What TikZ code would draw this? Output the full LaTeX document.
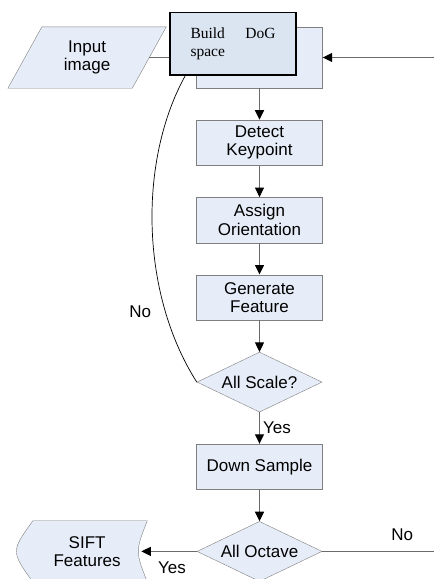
\documentclass[tikz,border=0pt]{standalone}
\usepackage{fontspec}
\setmainfont{Liberation Sans}
\newfontfamily\timesfont{Liberation Serif}
\usetikzlibrary{positioning,shapes.geometric,arrows.meta,backgrounds}
\definecolor{boxfill}{HTML}{E7EDF8}
\definecolor{buildfill}{HTML}{DBE4F1}
\definecolor{boxline}{HTML}{7F7F7F}
\definecolor{flowline}{HTML}{6A6A6A}

\begin{document}
\begin{tikzpicture}[x=1pt, y=-1pt,
    font=\fontsize{17}{18.5}\selectfont,
    node distance=31.5pt,
    proc/.style={rectangle, draw=boxline, fill=boxfill, minimum width=126pt,
      minimum height=45.5pt, align=center, inner sep=0pt},
    decide/.style={diamond, draw=boxline, fill=boxfill, minimum width=125pt,
      minimum height=60pt, aspect=2, inner sep=0pt},
    io/.style={align=center, minimum height=61pt, inner sep=0pt},
    shapeline/.style={draw=boxline, fill=boxfill},
    flow/.style={draw=flowline, line width=1.1pt,
      -{Triangle[black, width=9pt, length=9.5pt]}},
    lbl/.style={inner sep=3pt}]
  \useasboundingbox (0,0) rectangle (434,579);

  % main column
  \node[proc, minimum height=61pt] (dog) at (259.5,57.5) {Build DoG\\space};
  \node[proc, below=of dog] (detect) {Detect\\Keypoint};
  \node[proc, below=of detect] (assign) {Assign\\Orientation};
  \node[proc, below=of assign] (generate) {Generate\\Feature};
  \node[decide, below=of generate] (scale) {All Scale?};
  \node[proc, below=of scale] (down) {Down Sample};
  \node[decide, below=of down] (octave) {All Octave};

  % input / output
  \node[io, minimum width=124pt, left=47pt of dog] (input) {Input\\image};
  \node[io, minimum width=108pt] (sift) at (octave -| input) {SIFT\\Features};
  \begin{scope}[on background layer]
    \path[shapeline] ([xshift=17pt]input.north west) -- ([xshift=17pt]input.north east)
      -- ([xshift=-17pt]input.south east) -- ([xshift=-17pt]input.south west) -- cycle;
    \path[shapeline] ([xshift=6pt]sift.north east)
      .. controls ([xshift=-6pt]sift.east) .. ([xshift=6pt]sift.south east)
      -- (sift.south west) .. controls ([xshift=-22pt]sift.west) .. (sift.north west)
      -- cycle;
  \end{scope}

  \coordinate (back) at ([xshift=123pt]octave.east);

  \draw[flow] (input) -- (dog);
  \draw[flow] (dog) -- (detect);
  \draw[flow] (detect) -- (assign);
  \draw[flow] (assign) -- (generate);
  \draw[flow] (generate) -- (scale);
  \draw[flow] (scale) -- node[lbl, right] {Yes} (down);
  \draw[flow] (down) -- (octave);
  \draw[flow] (octave) -- node[lbl, below=7pt, xshift=3pt] {Yes} (sift);
  \draw[flow] (octave.east) -- node[lbl, above=7pt, pos=0.65] {No} (back) |- (dog.east);
  \draw[black, line width=0.7pt, -{Triangle[width=9pt, length=9.5pt]}]
    (scale.west) .. controls (138,290) and (138,150) ..
    node[lbl, pos=0.23, left=11pt] {No} (dog.west);

  % note box laid over the first step
  \node[draw=black, line width=1.4pt, fill=buildfill, minimum width=126pt,
    minimum height=62.5pt, text width=85pt, align=justify,
    font=\timesfont\fontsize{15.5}{18.5}\selectfont]
    (build) at ([xshift=-26.5pt, yshift=13.7pt]dog.center) {Build DoG space};
\end{tikzpicture}
\end{document}
